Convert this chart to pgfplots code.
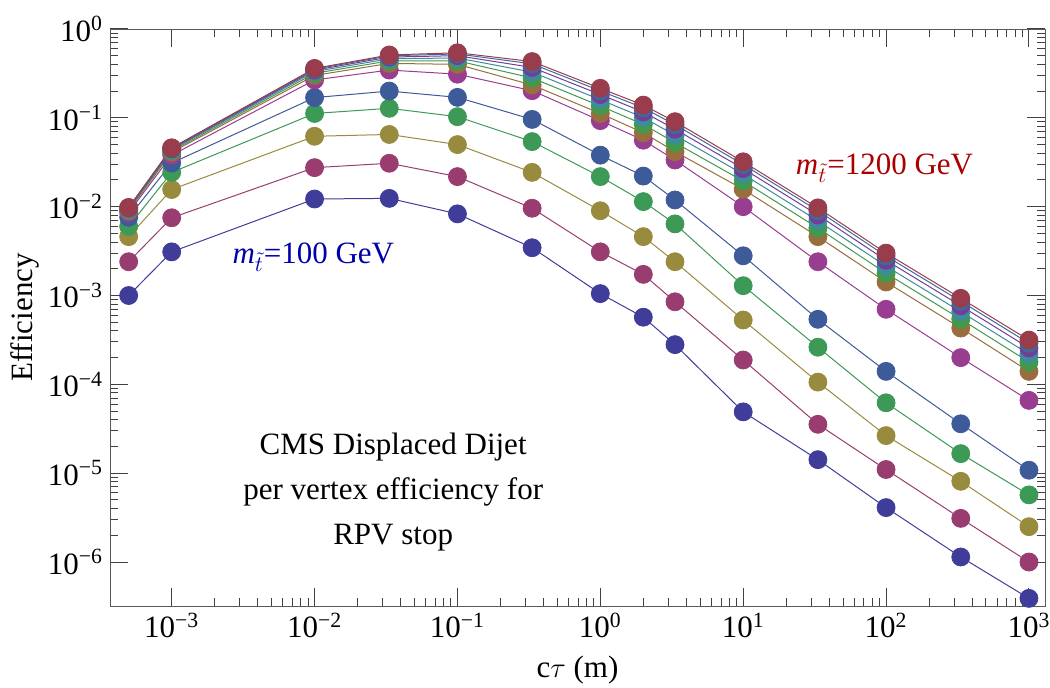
\documentclass[border=0pt]{standalone}
\usepackage{fontspec}
\setmainfont{Liberation Serif}
\usepackage{pgfplots}
\usepackage{pgfplotstable}
\pgfplotsset{compat=1.18}

\definecolor{c1}{rgb}{0.247,0.24,0.6}
\definecolor{c2}{rgb}{0.6,0.24,0.443}
\definecolor{c3}{rgb}{0.6,0.547,0.24}
\definecolor{c4}{rgb}{0.24,0.6,0.337}
\definecolor{c5}{rgb}{0.24,0.353,0.6}
\definecolor{c6}{rgb}{0.6,0.24,0.563}
\definecolor{c7}{rgb}{0.6,0.427,0.24}
\definecolor{c8}{rgb}{0.26,0.6,0.30}
\definecolor{c9}{rgb}{0.24,0.55,0.6}
\definecolor{c10}{rgb}{0.45,0.24,0.6}
\definecolor{c11}{rgb}{0.24,0.42,0.6}
\definecolor{c12}{rgb}{0.6,0.24,0.3}
\definecolor{lblred}{rgb}{0.667,0,0}
\definecolor{lblblue}{rgb}{0,0,0.667}

\pgfplotstableread{
x        s1       s2       s3       s4      s5      s6      s7      s8       s9      s10     s11     s12
5e-4     1.0e-3   2.4e-3   4.6e-3   6.0e-3  7.6e-3  8.6e-3  9.0e-3  9.23e-3  9.43e-3 9.6e-3  9.72e-3 9.8e-3
1e-3     3.1e-3   7.5e-3   1.56e-2  2.43e-2 3.1e-2  3.8e-2  4.1e-2  4.24e-2  4.37e-2 4.47e-2 4.55e-2 4.6e-2
1e-2     1.22e-2  2.75e-2  6.2e-2   0.112   0.169   0.267   0.30    0.317    0.332   0.344   0.353   0.36
0.03333  1.24e-2  3.08e-2  6.5e-2   0.128   0.20    0.345   0.41    0.438    0.462   0.483   0.499   0.51
0.1      8.3e-3   2.18e-2  5.0e-2   0.103   0.17    0.31    0.40    0.438    0.472   0.501   0.524   0.54
0.3333   3.45e-3  9.6e-3   2.43e-2  0.054   0.096   0.202   0.234   0.281    0.327   0.369   0.405   0.43
1        1.05e-3  3.1e-3   9.0e-3   0.0218  0.038   0.093   0.112   0.136    0.160   0.183   0.201   0.215
2        5.7e-4   1.73e-3  4.6e-3   0.0114  0.0221  0.056   0.068   0.0843   0.1008  0.1163  0.1295  0.139
3.333    2.8e-4   8.5e-4   2.4e-3   6.4e-3  0.0119  0.0335  0.0416  0.0525   0.0638  0.0745  0.0837  0.0905
10       4.9e-5   1.88e-4  5.3e-4   1.29e-3 2.8e-3  0.010   0.0157  0.0194   0.0232  0.0268  0.0298  0.032
33.33    1.42e-5  3.55e-5  1.06e-4  2.62e-4 5.4e-4  2.4e-3  4.6e-3  5.75e-3  6.93e-3 8.05e-3 9.0e-3  9.7e-3
100      4.1e-6   1.1e-5   2.65e-5  6.2e-5  1.4e-4  7.0e-4  1.42e-3 1.78e-3  2.14e-3 2.49e-3 2.78e-3 3.0e-3
333.3    1.14e-6  3.1e-6   8.1e-6   1.66e-5 3.6e-5  2.0e-4  4.3e-4  5.42e-4  6.57e-4 7.67e-4 8.61e-4 9.3e-4
1000     3.9e-7   1.0e-6   2.5e-6   5.7e-6  1.08e-5 6.6e-5  1.4e-4  1.785e-4 2.19e-4 2.57e-4 2.9e-4  3.15e-4
}\data

\begin{document}
\begin{tikzpicture}
\begin{axis}[
  name=ax,
  xmode=log, ymode=log,
  scale only axis,
  width=467.5pt, height=288.5pt,
  xmin=3.7e-4, xmax=1295,
  ymin=3.2e-7, ymax=1,
  xtick={1e-3,1e-2,0.1,1,10,100,1000},
  xticklabels={10\textsuperscript{−3},10\textsuperscript{−2},10\textsuperscript{−1},10\textsuperscript{0},10\textsuperscript{1},10\textsuperscript{2},10\textsuperscript{3}},
  ytick={1e-6,1e-5,1e-4,1e-3,1e-2,0.1,1},
  yticklabels={10\textsuperscript{−6},10\textsuperscript{−5},10\textsuperscript{−4},10\textsuperscript{−3},10\textsuperscript{−2},10\textsuperscript{−1},10\textsuperscript{0}},
  tick align=inside,
  xtick pos=both, ytick pos=both,
  xticklabel pos=lower, yticklabel pos=left,
  major tick length=9pt, minor tick length=4pt,
  axis line style={black!65},
  every tick/.style={black!75, line width=0.5pt},
  tick label style={font=\fontsize{15.5}{18}\selectfont},
  label style={font=\fontsize{15.5}{18}\selectfont},
  xlabel={c$\tau$ (m)},
  ylabel={Efficiency},
  xlabel style={at={(axis description cs:0.5,-0.111)}, anchor=center},
  ylabel style={at={(axis description cs:-0.0909,0.5)}, anchor=center},
  clip mode=global,
]
\pgfplotsinvokeforeach{1,...,12}{
  \addplot[c#1, line width=0.5pt, no markers] table[x=x,y=s#1]{\data};
}
\pgfplotsinvokeforeach{1,...,12}{
  \addplot[only marks, mark=*, mark size=4.5pt, mark options={draw=c#1, fill=c#1}] table[x=x,y=s#1]{\data};
}
\node[font=\fontsize{15.5}{22.7}\selectfont, align=center] at (axis cs:0.0355,6.14e-6)
  {CMS Displaced Dijet\\per vertex efficiency for\\RPV stop};
\node[font=\fontsize{15.5}{18}\selectfont, text=lblblue, anchor=base] at (axis cs:9.8e-3,2.32e-3)
  {\textit{m}$_{\tilde{t}}$=100 GeV};
\node[font=\fontsize{15.5}{18}\selectfont, text=lblred, anchor=base] at (axis cs:97.5,0.0233)
  {\textit{m}$_{\tilde{t}}$=1200 GeV};
\end{axis}
\pgfresetboundingbox
\path[use as bounding box] ([xshift=-55pt,yshift=-41pt]ax.south west) rectangle ([xshift=2.5pt,yshift=14.5pt]ax.north east);
\end{tikzpicture}
\end{document}
